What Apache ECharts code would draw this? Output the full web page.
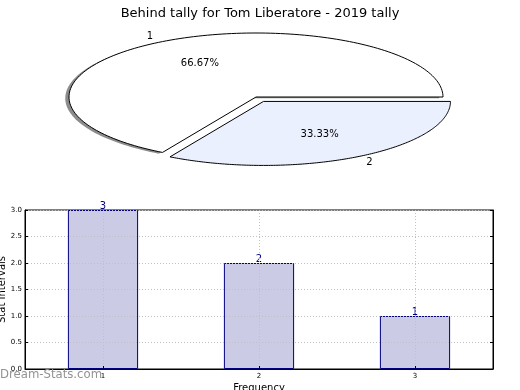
<!DOCTYPE html>
<html>
<head>
<meta charset="utf-8">
<script src="https://cdn.jsdelivr.net/npm/echarts@6/dist/echarts.min.js"></script>
<style>
html,body{margin:0;padding:0;background:#fff;}
#main{width:520px;height:390px;}
</style>
</head>
<body>
<div id="main"></div>
<script>
const chartTitle = 'Behind tally for Tom Liberatore - 2019 tally';
const pieLabels = ['1', '2'];
const pieValues = [2, 1];
const pieExplode = [0, 0.08];
const barCategories = ['1', '2', '3'];
const barValues = [3, 2, 1];
const yAxisName = 'Stat Intervals';
const xAxisName = 'Frequency';
const watermark = 'Dream-Stats.com';

const FONT = 'DejaVu Sans';
const total = pieValues.reduce((a, b) => a + b, 0);

function renderSlice(params, api) {
  const i = params.dataIndex;
  let start = 0;
  for (let k = 0; k < i; k++) start += pieValues[k] / total * Math.PI * 2;
  const sweep = api.value(0) / total * Math.PI * 2;
  const mid = start + sweep / 2;
  const ex = pieExplode[i];
  const cx = ex * Math.cos(mid), cy = ex * Math.sin(mid);
  function poly(dx, dy) {
    const pts = [api.coord([cx + dx, cy + dy])];
    const N = 160;
    for (let j = 0; j <= N; j++) {
      const a = start + sweep * j / N;
      pts.push(api.coord([cx + dx + Math.cos(a), cy + dy + Math.sin(a)]));
    }
    return pts;
  }
  const children = [];
  if (i === 0) {
    children.push({type: 'polygon', shape: {points: poly(-0.02, -0.02)},
      style: {fill: 'rgba(0,0,0,0.45)', stroke: null}});
  }
  children.push({type: 'polygon', shape: {points: poly(0, 0)},
    style: {fill: i === 0 ? '#ffffff' : '#eaf0fd', stroke: '#000', lineWidth: 1}});
  const pp = api.coord([cx + 0.6 * Math.cos(mid), cy + 0.6 * Math.sin(mid)]);
  children.push({type: 'text', x: pp[0], y: pp[1], style: {
    text: (api.value(0) / total * 100).toFixed(2) + '%', fill: '#000',
    font: '10px "' + FONT + '"', align: 'center', verticalAlign: 'middle'}});
  const lx = cx + 1.1 * Math.cos(mid);
  const lp = api.coord([lx, cy + 1.1 * Math.sin(mid)]);
  children.push({type: 'text', x: lp[0], y: lp[1], style: {
    text: pieLabels[i], fill: '#000', font: '10px "' + FONT + '"',
    align: lx > 0 ? 'left' : 'right', verticalAlign: 'middle'}});
  return {type: 'group', children: children};
}

const chart = echarts.init(document.getElementById('main'), null, {renderer: 'canvas'});
const option = {
  backgroundColor: '#ffffff',
  animation: false,
  textStyle: {fontFamily: FONT},
  title: {text: chartTitle, left: 'center', top: 2,
    textStyle: {fontSize: 13, fontWeight: 'normal', color: '#000', fontFamily: FONT}},
  graphic: [{type: 'text', left: 0, top: 369, z: 10, style: {text: watermark, fill: '#939393',
    font: '11.7px "' + FONT + '"'}}],
  grid: [
    {left: 69, top: 33, width: 374, height: 128, show: false, containLabel: false, outerBoundsMode: 'none'},
    {left: 25, top: 210, width: 468, height: 159, show: true, borderColor: '#000', borderWidth: 1,
      backgroundColor: 'transparent', containLabel: false, outerBoundsMode: 'none'}
  ],
  xAxis: [
    {gridIndex: 0, type: 'value', min: -1, max: 1, show: false},
    {gridIndex: 1, type: 'category', data: barCategories, z: 3,
      name: xAxisName, nameLocation: 'middle', nameGap: 14,
      nameTextStyle: {fontSize: 10, color: '#000', fontFamily: FONT},
      axisLine: {show: true, lineStyle: {color: '#000', width: 1}},
      axisTick: {show: true, inside: true, alignWithLabel: true, length: 3, lineStyle: {color: '#000'}},
      axisLabel: {fontSize: 7, color: '#000', margin: 4, fontFamily: FONT},
      splitLine: {show: true, alignWithLabel: true, lineStyle: {color: '#c0c0c0', type: [1, 2], width: 1}}}
  ],
  yAxis: [
    {gridIndex: 0, type: 'value', min: -1, max: 1, show: false},
    {gridIndex: 1, type: 'value', min: 0, max: 3, interval: 0.5, z: 3,
      name: yAxisName, nameLocation: 'middle', nameGap: 18, nameRotate: 90, nameMoveOverlap: false,
      nameTextStyle: {fontSize: 10, color: '#000', fontFamily: FONT},
      axisLine: {show: true, lineStyle: {color: '#000', width: 1}},
      axisTick: {show: true, inside: true, length: 3, lineStyle: {color: '#000'}},
      axisLabel: {fontSize: 7, color: '#000', margin: 3, fontFamily: FONT,
        formatter: v => v.toFixed(1)},
      splitLine: {show: true, lineStyle: {color: '#c0c0c0', type: [1, 2], width: 1}}},
    {gridIndex: 1, type: 'value', min: 0, max: 3, interval: 0.5, position: 'right', z: 3,
      axisLine: {show: true, lineStyle: {color: '#000', width: 1}},
      axisTick: {show: true, inside: true, length: 3, lineStyle: {color: '#000'}},
      axisLabel: {show: false}, splitLine: {show: false}}
  ],
  series: [
    {type: 'custom', xAxisIndex: 0, yAxisIndex: 0, clip: false,
      data: pieValues.map((v, i) => [v, i]), renderItem: renderSlice},
    {type: 'bar', xAxisIndex: 1, yAxisIndex: 1, data: barValues, barWidth: '45%',
      itemStyle: {color: '#cbcbe5', borderColor: '#000080', borderWidth: 1},
      label: {show: true, position: 'top', distance: -1, fontSize: 10, color: '#000080', fontFamily: FONT}}
  ]
};
chart.setOption(option);
</script>
</body>
</html>
